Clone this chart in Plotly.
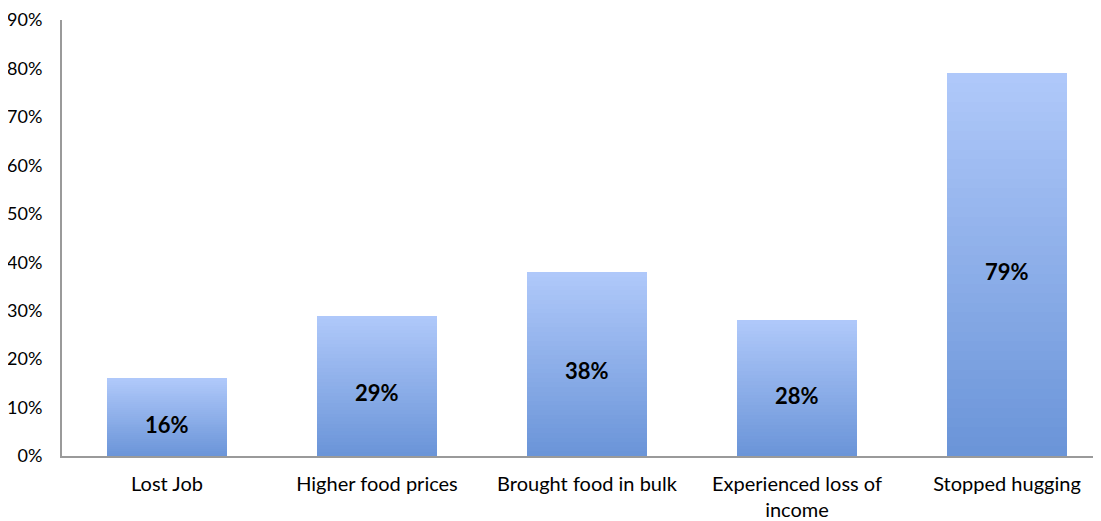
import plotly.graph_objects as go

categories = ["Lost Job", "Higher food prices", "Brought food in bulk",
              "Experienced loss of<br>income", "Stopped hugging"]
values = [16, 29, 38, 28, 79]
value_labels = ["16%", "29%", "38%", "28%", "79%"]
tick_vals = [0, 10, 20, 30, 40, 50, 60, 70, 80, 90]
tick_text = ["0%", "10%", "20%", "30%", "40%", "50%", "60%", "70%", "80%", "90%"]

top_rgb = (176, 201, 250)
bot_rgb = (106, 148, 216)
N = 40

fig = go.Figure()
for k in range(N):
    t = (k + 0.5) / N  # 0 at bottom, 1 at top
    r = round(bot_rgb[0] + (top_rgb[0] - bot_rgb[0]) * t)
    g = round(bot_rgb[1] + (top_rgb[1] - bot_rgb[1]) * t)
    b = round(bot_rgb[2] + (top_rgb[2] - bot_rgb[2]) * t)
    fig.add_trace(go.Bar(
        x=categories,
        y=[v / N * 1.0001 for v in values],
        base=[v * k / N for v in values],
        width=0.576,
        marker=dict(color=f"rgb({r},{g},{b})", line=dict(width=0)),
        hoverinfo="skip",
        showlegend=False,
    ))

for cat, v, lab in zip(categories, values, value_labels):
    fig.add_annotation(
        x=cat, y=v / 2, text=lab, showarrow=False, yshift=-7,
        font=dict(family="Lato", size=22, color="black", weight="bold"),
    )

fig.update_layout(
    width=1093, height=513,
    margin=dict(l=54, r=0, t=12, b=65),
    paper_bgcolor="white",
    plot_bgcolor="white",
    barmode="overlay",
    bargap=0,
    font=dict(family="Lato", color="black"),
)
fig.update_xaxes(
    range=[-0.5, -0.5 + 1039 / 210],
    showgrid=False,
    showline=True, linecolor="#9a9a9a", linewidth=2,
    ticks="",
    tickfont=dict(family="Lato", size=20, color="black"),
    ticklabelstandoff=9,
    automargin=False,
    fixedrange=True,
)
fig.update_yaxes(
    range=[0, 90],
    tickvals=tick_vals,
    ticktext=tick_text,
    showgrid=False,
    zeroline=False,
    showline=True, linecolor="#9a9a9a", linewidth=2,
    ticks="",
    tickfont=dict(family="Lato", size=18, color="black"),
    ticklabelstandoff=14,
    automargin=False,
    fixedrange=True,
)

fig.write_html("out.html", config={"displayModeBar": False})
